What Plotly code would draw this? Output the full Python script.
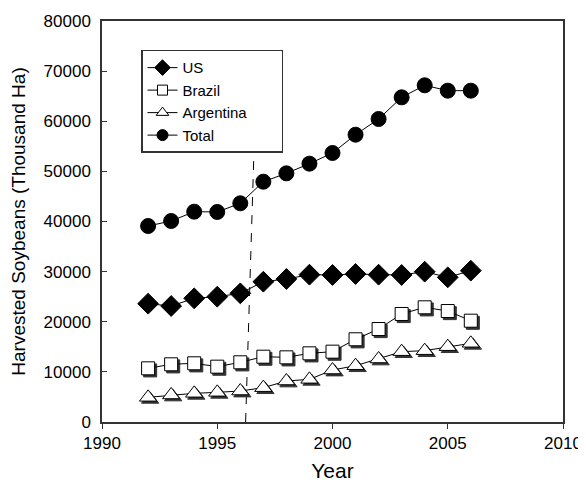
import plotly.graph_objects as go

years = list(range(1992, 2007))
us = [23600, 23140, 24670, 25000, 25670, 27990, 28530, 29390, 29330, 29530, 29390, 29330, 29990, 28860, 30190]
brazil = [10710, 11510, 11710, 11040, 11910, 13030, 12900, 13700, 14030, 16500, 18550, 21550, 22880, 22140, 20210]
argentina = [4920, 5390, 5720, 5920, 6180, 6850, 8180, 8510, 10370, 11230, 12570, 14030, 14230, 15030, 15700]
total = [39100, 40100, 41960, 41900, 43630, 47940, 49610, 51540, 53670, 57320, 60450, 64770, 67170, 66100, 66100]
names = ["US", "Brazil", "Argentina" + "\u00a0" * 7, "Total"]

# dashed reference line (slightly slanted in the original)
ref_x = [1996.23, 1996.59]
ref_y = [0, 53500]

fig = go.Figure()

# shadow offsets (data units) for hollow markers
sx, sy = 0.09, -420

fig.add_trace(go.Scatter(x=ref_x, y=ref_y, mode="lines", showlegend=False,
                         line=dict(color="black", width=1, dash="dash"), hoverinfo="skip"))

def add_series(name, ys, symbol, size, fill, legsize, shadow=False):
    if shadow:
        fig.add_trace(go.Scatter(x=[x + sx for x in years], y=[y + sy for y in ys], mode="markers",
                                 showlegend=False, hoverinfo="skip",
                                 marker=dict(symbol=symbol, size=size, color="#333333",
                                             line=dict(color="#333333", width=1))))
    fig.add_trace(go.Scatter(x=years, y=ys, name=name, mode="lines+markers", showlegend=False,
                             line=dict(color="black", width=1),
                             marker=dict(symbol=symbol, size=size, color=fill,
                                         line=dict(color="black", width=1))))
    # legend-only entry with smaller marker
    fig.add_trace(go.Scatter(x=[None], y=[None], name=name, mode="lines+markers",
                             line=dict(color="black", width=1),
                             marker=dict(symbol=symbol, size=legsize, color=fill,
                                         line=dict(color="black", width=1))))

add_series(names[0], us, "diamond", 16, "black", 12)
add_series(names[1], brazil, "square", 13, "white", 10, shadow=True)
add_series(names[2], argentina, "triangle-up", 15, "white", 11, shadow=True)
add_series(names[3], total, "circle", 15, "black", 11)

axis_common = dict(showline=True, linecolor="#333333", linewidth=1.5, mirror=True,
                   showgrid=False, zeroline=False, ticklen=5, tickcolor="#333333",
                   tickformat="d", automargin=False,
                   tickfont=dict(family="Liberation Sans, Arial", size=17, color="black"))

fig.update_layout(
    width=578, height=474,
    margin=dict(l=94, r=23, t=13, b=60),
    paper_bgcolor="white", plot_bgcolor="white",
    font=dict(family="Liberation Sans, Arial", color="black"),
    xaxis=dict(range=[1990, 2010], dtick=5, ticks="outside", ticklabelstandoff=0,
               title=dict(text="Year", font=dict(size=21), standoff=12), **axis_common),
    yaxis=dict(range=[0, 80000], dtick=10000, ticks="inside", ticklabelstandoff=6,
               title=dict(text="Harvested Soybeans (Thousand Ha)" + "\u00a0" * 4,
                          font=dict(size=19), standoff=17),
               **axis_common),
    legend=dict(x=0.0846, y=0.928, xanchor="left", yanchor="top",
                bordercolor="#333333", borderwidth=1.5, bgcolor="white",
                font=dict(size=15), tracegroupgap=0, itemwidth=30),
)

fig.write_html("out.html")
